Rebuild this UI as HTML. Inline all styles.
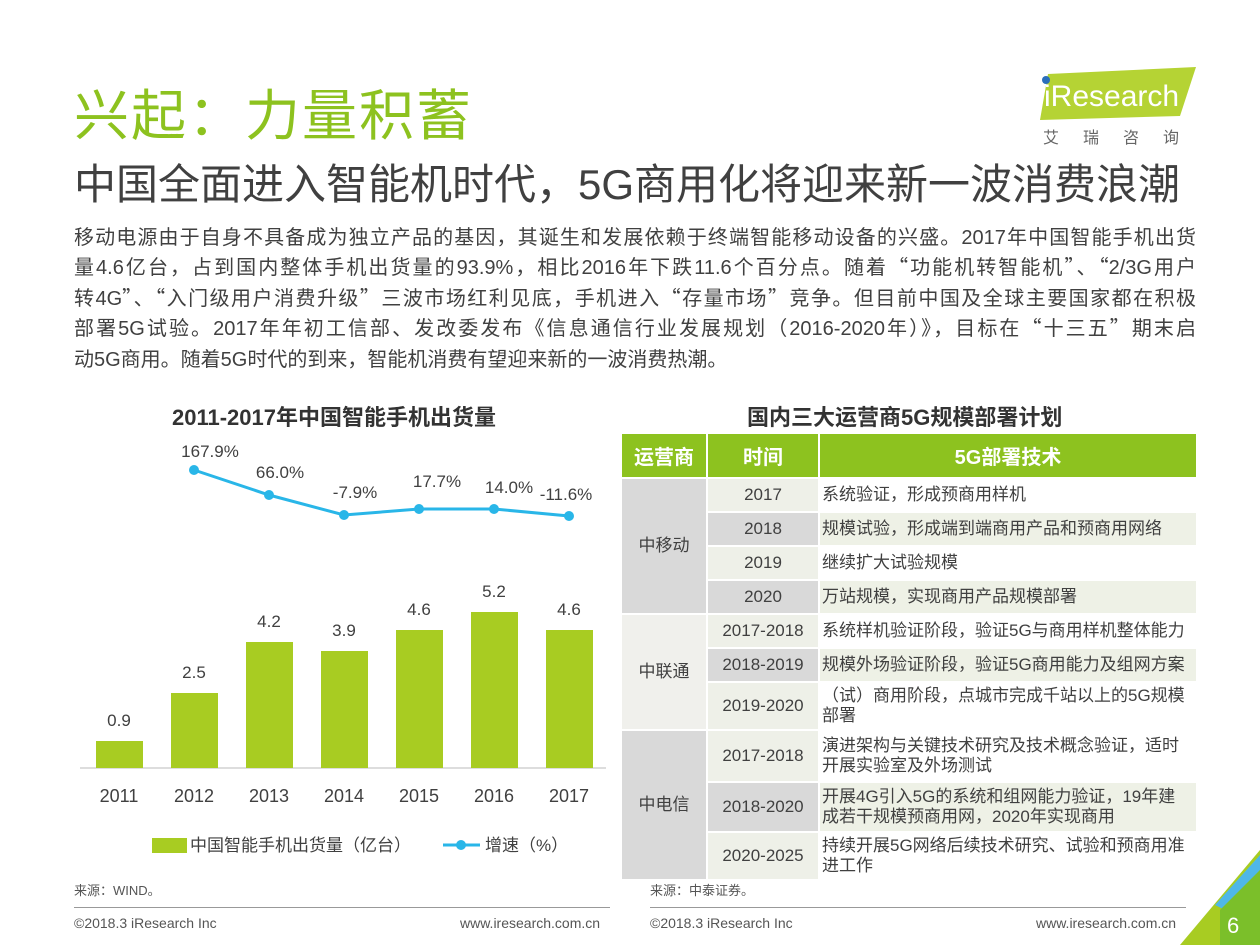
<!DOCTYPE html><html><head><meta charset="utf-8"><style>
body{margin:0;width:1260px;height:945px;background:#fff;position:relative;overflow:hidden;font-family:"Liberation Sans","Noto Sans CJK SC",sans-serif;color:#333}
.a{position:absolute;white-space:nowrap}
.p{position:absolute;left:74px;width:1122px;font-size:20px;color:#404040;text-align:justify;text-align-last:justify;white-space:nowrap;height:30px}
.q{font-family:"Noto Sans CJK SC",sans-serif}
table{position:absolute;left:620px;top:432px;border-collapse:collapse;font-size:17px;color:#404040;width:576px;table-layout:fixed}
td{border:2px solid #fff;padding:0 2px;line-height:20px}
th{background:#8dc21f;color:#fff;font-size:20px;height:41px;border:2px solid #fff}
</style></head><body>
<div class="a" style="left:74px;top:71px;font-size:55px;color:#8dc21f;letter-spacing:2px">兴起：力量积蓄</div>
<svg class="a" style="left:1030px;top:64px" width="170" height="60"><polygon points="18,10 166,3 150,52 10,56" fill="#b5d334"/><circle cx="16" cy="16" r="4" fill="#2a6ebb"/><text x="14" y="42" font-size="30" fill="#fff" font-family="Liberation Sans">iResearch</text></svg>
<div class="a" style="left:1043px;top:124px;font-size:16px;color:#666;letter-spacing:24px">艾瑞咨询</div>
<div class="a" style="left:74px;top:151px;font-size:42px;color:#404040">中国全面进入智能机时代，5G商用化将迎来新一波消费浪潮</div>
<div class="p" style="top:221px">移动电源由于自身不具备成为独立产品的基因，其诞生和发展依赖于终端智能移动设备的兴盛。2017年中国智能手机出货</div>
<div class="p" style="top:251px">量4.6亿台，占到国内整体手机出货量的93.9%，相比2016年下跌11.6个百分点。随着<span class="q">“</span>功能机转智能机<span class="q">”</span>、<span class="q">“</span>2/3G用户</div>
<div class="p" style="top:282px">转4G<span class="q">”</span>、<span class="q">“</span>入门级用户消费升级<span class="q">”</span>三波市场红利见底，手机进入<span class="q">“</span>存量市场<span class="q">”</span>竞争。但目前中国及全球主要国家都在积极</div>
<div class="p" style="top:312px">部署5G试验。2017年年初工信部、发改委发布《信息通信行业发展规划（2016-2020年）》，目标在<span class="q">“</span>十三五<span class="q">”</span>期末启</div>
<div class="a" style="left:74px;top:343px;font-size:20px;color:#404040">动5G商用。随着5G时代的到来，智能机消费有望迎来新的一波消费热潮。</div>
<div class="a" style="left:172px;top:400px;font-size:22px;font-weight:bold;color:#333">2011-2017年中国智能手机出货量</div>
<div class="a" style="left:747px;top:400px;font-size:22px;font-weight:bold;color:#333">国内三大运营商5G规模部署计划</div>
<svg class="a" style="left:0;top:430px" width="620" height="440" font-family="Liberation Sans" font-size="17" fill="#404040" text-anchor="middle">
<line x1="80" y1="338" x2="606" y2="338" stroke="#bbb"/>
<g fill="#a8cc22">
<rect x="96" y="311" width="47" height="27"/><rect x="171" y="263" width="47" height="75"/><rect x="246" y="212" width="47" height="126"/><rect x="321" y="221" width="47" height="117"/><rect x="396" y="200" width="47" height="138"/><rect x="471" y="182" width="47" height="156"/><rect x="546" y="200" width="47" height="138"/></g>
<text x="119" y="296">0.9</text><text x="194" y="248">2.5</text><text x="269" y="197">4.2</text><text x="344" y="206">3.9</text><text x="419" y="185">4.6</text><text x="494" y="167">5.2</text><text x="569" y="185">4.6</text>
<g font-size="18"><text x="119" y="372">2011</text><text x="194" y="372">2012</text><text x="269" y="372">2013</text><text x="344" y="372">2014</text><text x="419" y="372">2015</text><text x="494" y="372">2016</text><text x="569" y="372">2017</text></g>
<polyline points="194,40 269,65 344,85 419,79 494,79 569,86" fill="none" stroke="#29b6e8" stroke-width="3"/>
<g fill="#29b6e8"><circle cx="194" cy="40" r="5"/><circle cx="269" cy="65" r="5"/><circle cx="344" cy="85" r="5"/><circle cx="419" cy="79" r="5"/><circle cx="494" cy="79" r="5"/><circle cx="569" cy="86" r="5"/></g>
<text x="210" y="27">167.9%</text><text x="280" y="48">66.0%</text><text x="355" y="68">-7.9%</text><text x="437" y="57">17.7%</text><text x="509" y="63">14.0%</text><text x="566" y="70">-11.6%</text>
<rect x="152" y="408" width="35" height="15" fill="#a8cc22"/><text x="190" y="421" text-anchor="start">中国智能手机出货量（亿台）</text>
<line x1="443" y1="415" x2="480" y2="415" stroke="#29b6e8" stroke-width="3"/><circle cx="461" cy="415" r="5" fill="#29b6e8"/><text x="485" y="421" text-anchor="start">增速（%）</text>
</svg>
<table>
<colgroup><col style="width:86px"><col style="width:112px"><col style="width:378px"></colgroup>
<tr><th>运营商</th><th>时间</th><th>5G部署技术</th></tr>
<tr style="height:34px"><td rowspan="4" style="background:#d9d9d9;text-align:center">中移动</td><td style="background:#eef0e8;text-align:center">2017</td><td style="background:#fff">系统验证，形成预商用样机</td></tr>
<tr style="height:34px"><td style="background:#d9d9d9;text-align:center">2018</td><td style="background:#eef1e6">规模试验，形成端到端商用产品和预商用网络</td></tr>
<tr style="height:34px"><td style="background:#eef0e8;text-align:center">2019</td><td style="background:#fff">继续扩大试验规模</td></tr>
<tr style="height:34px"><td style="background:#d9d9d9;text-align:center">2020</td><td style="background:#eef1e6">万站规模，实现商用产品规模部署</td></tr>
<tr style="height:34px"><td rowspan="3" style="background:#f0f0ec;text-align:center">中联通</td><td style="background:#eef0e8;text-align:center">2017-2018</td><td style="background:#fff">系统样机验证阶段，验证5G与商用样机整体能力</td></tr>
<tr style="height:34px"><td style="background:#d9d9d9;text-align:center">2018-2019</td><td style="background:#eef1e6">规模外场验证阶段，验证5G商用能力及组网方案</td></tr>
<tr style="height:48px"><td style="background:#eef0e8;text-align:center">2019-2020</td><td style="background:#fff">（试）商用阶段，点城市完成千站以上的5G规模部署</td></tr>
<tr style="height:52px"><td rowspan="3" style="background:#d9d9d9;text-align:center">中电信</td><td style="background:#eef0e8;text-align:center">2017-2018</td><td style="background:#fff">演进架构与关键技术研究及技术概念验证，适时开展实验室及外场测试</td></tr>
<tr style="height:50px"><td style="background:#d9d9d9;text-align:center">2018-2020</td><td style="background:#eef1e6">开展4G引入5G的系统和组网能力验证，19年建<br>成若干规模预商用网，2020年实现商用</td></tr>
<tr style="height:48px"><td style="background:#eef0e8;text-align:center">2020-2025</td><td style="background:#fff">持续开展5G网络后续技术研究、试验和预商用准进工作</td></tr>
</table>
<div class="a" style="left:74px;top:880px;font-size:13px;color:#555">来源：WIND。</div>
<div class="a" style="left:650px;top:880px;font-size:13px;color:#555">来源：中泰证券。</div>
<div class="a" style="left:74px;top:907px;width:536px;border-top:1px solid #999"></div>
<div class="a" style="left:650px;top:907px;width:536px;border-top:1px solid #999"></div>
<div class="a" style="left:74px;top:915px;font-size:14px;color:#555">©2018.3 iResearch Inc</div>
<div class="a" style="left:460px;top:915px;font-size:14px;color:#555">www.iresearch.com.cn</div>
<div class="a" style="left:650px;top:915px;font-size:14px;color:#555">©2018.3 iResearch Inc</div>
<div class="a" style="left:1036px;top:915px;font-size:14px;color:#555">www.iresearch.com.cn</div>
<svg class="a" style="left:1180px;top:850px" width="80" height="95"><polygon points="80,0 80,95 0,95" fill="#a8cc22"/><polygon points="80,5 80,20 45,60 35,55" fill="#4fb7e8"/><polygon points="80,20 80,95 40,95 40,60" fill="#7bbf2a"/><text x="47" y="83" font-size="22" fill="#fff" font-family="Liberation Sans">6</text></svg>
</body></html>
